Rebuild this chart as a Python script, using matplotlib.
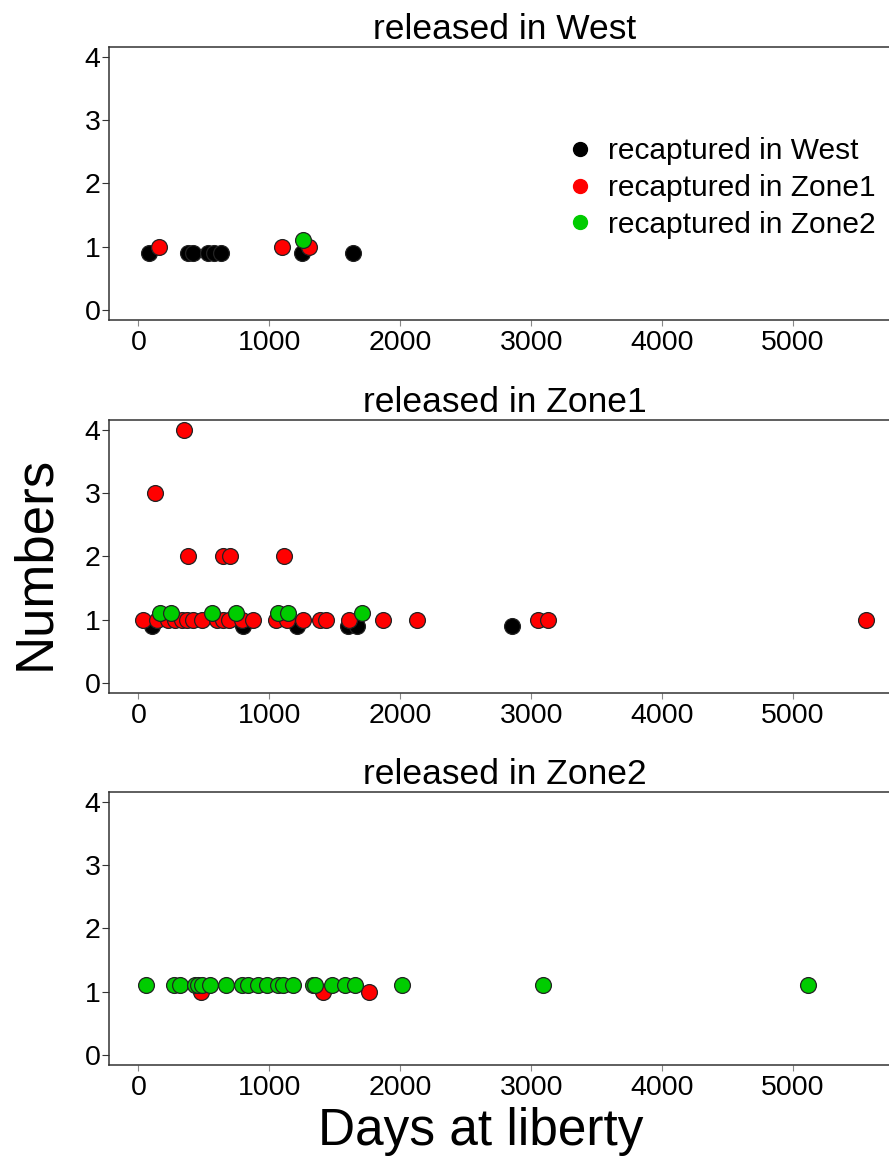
import matplotlib
matplotlib.use("Agg")
import matplotlib.pyplot as plt
from matplotlib.lines import Line2D

plt.rcParams['font.family'] = ['Liberation Sans', 'DejaVu Sans']

# Days at liberty and numbers of recaptures, per release area and recapture area
west_black_days = [84, 382, 420, 534, 580, 629, 1252, 1641]
west_black_n = [1, 1, 1, 1, 1, 1, 1, 1]
west_red_days = [160, 1095, 1305]
west_red_n = [1, 1, 1]
west_green_days = [1255]
west_green_n = [1]

zone1_black_days = [102, 801, 1214, 1603, 1667, 2850]
zone1_black_n = [1, 1, 1, 1, 1, 1]
zone1_red_days = [33, 145, 229, 280, 331, 374, 420, 484, 598, 649, 695, 789, 878,
                  1049, 1137, 1255, 1387, 1433, 1611, 1866, 2130, 3053, 3130, 5560,
                  351, 127, 377, 644, 700, 1115]
zone1_red_n = [1, 1, 1, 1, 1, 1, 1, 1, 1, 1, 1, 1, 1,
               1, 1, 1, 1, 1, 1, 1, 1, 1, 1, 1,
               4, 3, 2, 2, 2, 2]
zone1_green_days = [166, 250, 565, 746, 1069, 1140, 1710]
zone1_green_n = [1, 1, 1, 1, 1, 1, 1]

zone2_black_days = []
zone2_black_n = []
zone2_red_days = [476, 1407, 1763]
zone2_red_n = [1, 1, 1]
zone2_green_days = [56, 272, 318, 433, 458, 484, 547, 669, 789, 840, 916, 980, 1069,
                    1107, 1178, 1336, 1349, 1476, 1578, 1654, 2011, 3092, 5115]
zone2_green_n = [1] * 23

panel_titles = ["released in West", "released in Zone1", "released in Zone2"]
legend_labels = ["recaptured in West", "recaptured in Zone1", "recaptured in Zone2"]
colors = ["#000000", "#ff0000", "#00cc00"]
offsets = [-0.1, 0.0, 0.1]   # small vertical shift so groups don't hide each other

panels = [
    [(west_black_days, west_black_n), (west_red_days, west_red_n), (west_green_days, west_green_n)],
    [(zone1_black_days, zone1_black_n), (zone1_red_days, zone1_red_n), (zone1_green_days, zone1_green_n)],
    [(zone2_black_days, zone2_black_n), (zone2_red_days, zone2_red_n), (zone2_green_days, zone2_green_n)],
]

fig = plt.figure(figsize=(8.89, 11.58), dpi=100)
bottoms = [0.7237, 0.4016, 0.0803]
spine_col = "#333333"

for i, (groups, title) in enumerate(zip(panels, panel_titles)):
    ax = fig.add_axes([0.1226, bottoms[i], 0.8909, 0.2358])
    for (days, n), col, off in zip(groups, colors, offsets):
        ax.scatter(days, [v + off for v in n], s=130, c=col,
                   edgecolors="#222222", linewidths=0.9, zorder=3)
    ax.set_xlim(-224, 5824)
    ax.set_ylim(-0.16, 4.16)
    ax.set_xticks([0, 1000, 2000, 3000, 4000, 5000])
    ax.set_yticks([0, 1, 2, 3, 4])
    ax.tick_params(axis="x", direction="out", length=4, width=0.8, pad=3,
                   labelsize=20.5, color="#888888")
    ax.tick_params(axis="y", direction="out", length=5, width=0.8, pad=1,
                   labelsize=20.5, color=spine_col)
    for sp in ax.spines.values():
        sp.set_color(spine_col)
        sp.set_linewidth(1.1)
    ax.spines["right"].set_visible(False)
    ax.set_title(title, fontsize=25.5, pad=6)

    if i == 0:
        handles = [Line2D([], [], marker="o", linestyle="none", markersize=10,
                          markerfacecolor=c, markeredgecolor=c) for c in colors]
        ax.legend(handles, legend_labels, loc="upper left", frameon=False,
                  fontsize=21.5, handlelength=1.0, handletextpad=0.45,
                  labelspacing=0.3, borderpad=0, borderaxespad=0,
                  bbox_to_anchor=(565 / 889, 1 - 137 / 1158),
                  bbox_transform=fig.transFigure)

fig.text(35 / 889, 1 - 563 / 1158, "Numbers", rotation=90, fontsize=38,
         ha="center", va="center")
fig.text(481 / 889, 1 - 1131 / 1158, "Days at liberty", fontsize=37,
         ha="center", va="center")

fig.savefig("out.png", dpi=100)
